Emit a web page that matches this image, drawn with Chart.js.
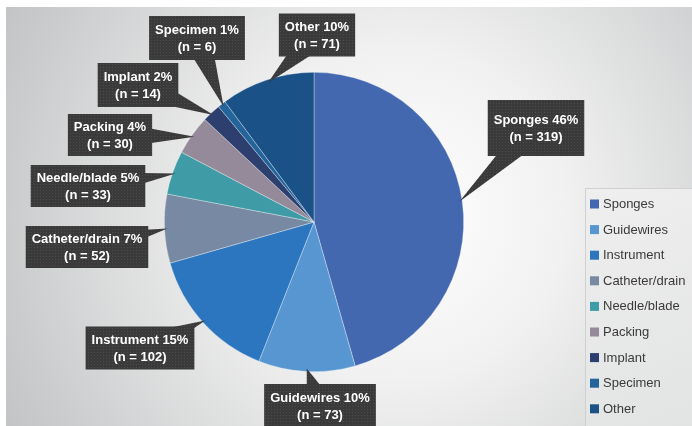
<!DOCTYPE html>
<html lang="en">
<head>
  <meta charset="UTF-8" />
  <title>Retained items by type</title>
  <script src="https://cdn.jsdelivr.net/npm/chart.js"></script>
  <style>
    html, body { margin: 0; padding: 0; background: #ffffff; }
    #wrap { width: 692px; height: 426px; position: relative; }
  </style>
</head>
<body>
  <div id="wrap"><canvas id="pieChart"></canvas></div>
  <script>
    // data
    const categories = ['Sponges', 'Guidewires', 'Instrument', 'Catheter/drain', 'Needle/blade', 'Packing', 'Implant', 'Specimen', 'Other'];
    const counts = [319, 73, 102, 52, 33, 30, 14, 6, 71];
    const sliceColors = ['#4468b0', '#5796d0', '#2b76bf', '#7789a3', '#3f9ca6', '#958a9a', '#2c3f6e', '#23649a', '#1a5288'];

    // callout centres (layout only)
    const calloutPos = [
      { cx: 536, cy: 128, h: 56 },
      { cx: 320, cy: 406, h: 44 },
      { cx: 140, cy: 348, h: 43 },
      { cx: 87, cy: 247, h: 42 },
      { cx: 88, cy: 186, h: 42 },
      { cx: 110, cy: 135, h: 42 },
      { cx: 138, cy: 85, h: 44 },
      { cx: 197, cy: 38, h: 44 },
      { cx: 317, cy: 35, h: 43 }
    ];

    const total = counts.reduce((a, b) => a + b, 0);

    // dotted dark texture for the callout boxes
    const tex = document.createElement('canvas');
    tex.width = 3; tex.height = 3;
    const tctx = tex.getContext('2d');
    tctx.fillStyle = '#3a3a3a';
    tctx.fillRect(0, 0, 3, 3);
    tctx.fillStyle = '#4c4c4c';
    tctx.fillRect(1, 1, 1, 1);

    const backdrop = {
      id: 'backdrop',
      beforeDraw(chart) {
        const c = chart.ctx;
        c.save();
        c.fillStyle = '#ffffff';
        c.fillRect(0, 0, chart.width, chart.height);
        const g = c.createRadialGradient(400, 215, 0, 400, 215, 470);
        g.addColorStop(0, '#ffffff');
        g.addColorStop(0.35, '#f1f1f1');
        g.addColorStop(1, '#bec0c1');
        c.fillStyle = g;
        c.fillRect(6, 7, chart.width - 6, chart.height - 7);
        c.restore();
      }
    };

    const callouts = {
      id: 'callouts',
      afterDatasetsDraw(chart) {
        const c = chart.ctx;
        const meta = chart.getDatasetMeta(0);
        const pat = c.createPattern(tex, 'repeat');
        c.save();
        c.font = 'bold 13px "Liberation Sans", Arial, sans-serif';
        meta.data.forEach((arc, i) => {
          const p = calloutPos[i];
          const line1 = categories[i] + ' ' + Math.round(counts[i] / total * 100) + '%';
          const line2 = '(n = ' + counts[i] + ')';
          const w = Math.max(c.measureText(line1).width, c.measureText(line2).width) + 12;
          const bx = p.cx - w / 2, by = p.cy - p.h / 2;

          const mid = (arc.startAngle + arc.endAngle) / 2;
          const r = arc.outerRadius * 0.98;
          const tx = arc.x + Math.cos(mid) * r;
          const ty = arc.y + Math.sin(mid) * r;
          const dx = tx - p.cx, dy = ty - p.cy;
          const len = Math.hypot(dx, dy);
          const nx = -dy / len * 14, ny = dx / len * 14;

          c.fillStyle = pat;
          c.beginPath();
          c.moveTo(p.cx + nx, p.cy + ny);
          c.lineTo(tx, ty);
          c.lineTo(p.cx - nx, p.cy - ny);
          c.closePath();
          c.fill();
          c.fillRect(bx, by, w, p.h);

          c.fillStyle = '#ffffff';
          c.textAlign = 'center';
          c.textBaseline = 'middle';
          c.fillText(line1, p.cx, p.cy - 8);
          c.fillText(line2, p.cx, p.cy + 9);
        });
        c.restore();
      }
    };

    const sideLegend = {
      id: 'sideLegend',
      afterDraw(chart) {
        const c = chart.ctx;
        c.save();
        const g = c.createLinearGradient(585, 188, 692, 426);
        g.addColorStop(0, '#efefef');
        g.addColorStop(1, '#e2e3e3');
        c.fillStyle = g;
        c.fillRect(585, 188, 110, 240);
        c.strokeStyle = '#d0d0d0';
        c.lineWidth = 1;
        c.strokeRect(585.5, 188.5, 110, 240);
        c.font = '13px "Liberation Sans", Arial, sans-serif';
        c.textBaseline = 'middle';
        c.textAlign = 'left';
        chart.data.labels.forEach((lab, i) => {
          const y = 204 + i * 25.6;
          c.fillStyle = chart.data.datasets[0].backgroundColor[i];
          c.fillRect(590, y - 4.5, 9, 9);
          c.fillStyle = '#3a3a3a';
          c.fillText(lab, 603, y + 0.5);
        });
        c.restore();
      }
    };

    new Chart(document.getElementById('pieChart'), {
      type: 'pie',
      data: {
        labels: categories,
        datasets: [{
          data: counts,
          backgroundColor: sliceColors,
          borderColor: 'rgba(255,255,255,0.55)',
          borderWidth: 0.6
        }]
      },
      options: {
        responsive: true,
        maintainAspectRatio: false,
        animation: false,
        layout: { padding: { left: 164, right: 228, top: 72, bottom: 54 } },
        plugins: {
          legend: { display: false },
          tooltip: { enabled: false }
        }
      },
      plugins: [backdrop, callouts, sideLegend]
    });
  </script>
</body>
</html>
